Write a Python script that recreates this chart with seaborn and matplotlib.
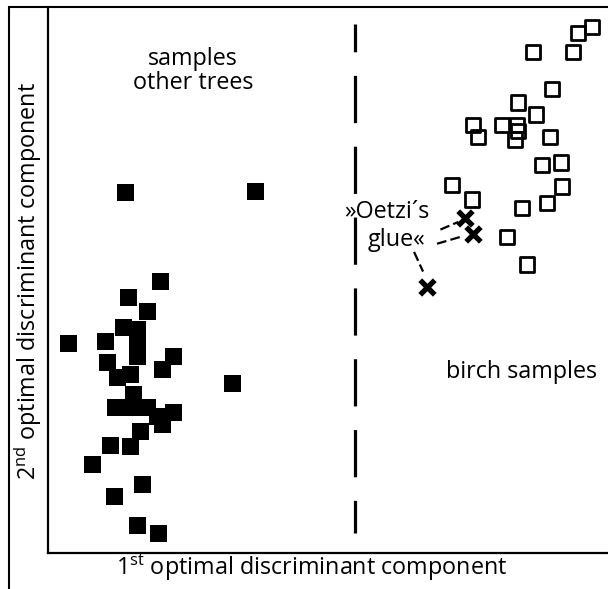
import matplotlib
matplotlib.use("Agg")
import matplotlib.pyplot as plt
import seaborn as sns
import pandas as pd


# ---- data (scores, arbitrary units 0..10) ----
other_x = [1.39, 3.71, 2.01, 1.44, 1.78, 1.35, 1.60, 0.37, 1.03, 1.60, 1.60,
           2.25, 1.07, 2.05, 1.25, 1.48, 3.30, 1.53, 1.21, 1.52, 1.78, 1.96,
           2.25, 2.05, 1.66, 1.12, 1.48, 0.80, 1.69, 1.19, 1.60, 1.98]
other_y = [6.60, 6.61, 4.96, 4.67, 4.41, 4.12, 4.08, 3.84, 3.86, 3.81, 3.59,
           3.59, 3.48, 3.35, 3.20, 3.26, 3.09, 2.89, 2.65, 2.65, 2.65, 2.49,
           2.56, 2.34, 2.21, 1.97, 1.94, 1.61, 1.24, 1.02, 0.49, 0.34]

birch_x = [9.71, 9.47, 8.66, 9.38, 9.00, 8.40, 8.72, 7.59, 7.68, 8.11, 8.38,
           8.40, 8.34, 8.97, 8.82, 9.16, 7.22, 7.58, 9.18, 8.91, 8.47, 8.20, 8.56]
birch_y = [9.64, 9.53, 9.17, 9.17, 8.49, 8.25, 8.03, 7.84, 7.62, 7.84, 7.84,
           7.72, 7.57, 7.61, 7.11, 7.15, 6.74, 6.47, 6.71, 6.41, 6.32, 5.79, 5.28]

glue_x = [7.45, 7.59, 6.77]
glue_y = [6.14, 5.83, 4.87]

divider_x = 5.49

other = pd.DataFrame({"x": other_x, "y": other_y})
birch = pd.DataFrame({"x": birch_x, "y": birch_y})
glue = pd.DataFrame({"x": glue_x, "y": glue_y})

# ---- style ----
sns.set_theme(style="white")
plt.rcParams["font.family"] = ["Open Sans", "DejaVu Sans"]
plt.rcParams["mathtext.fontset"] = "custom"
plt.rcParams["mathtext.rm"] = "Open Sans"
plt.rcParams["text.color"] = "black"
plt.rcParams["lines.scale_dashes"] = False

W, H = 608, 589
fig = plt.figure(figsize=(W / 100, H / 100), dpi=100)
ax = fig.add_axes([47.5 / W, 1 - 552.5 / H, (W - 47.5) / W, (552.5 - 7) / H])

sns.scatterplot(data=other, x="x", y="y", marker="s", s=150, color="black",
                edgecolor="none", ax=ax)
sns.scatterplot(data=birch, x="x", y="y", marker="s", s=105, facecolor="none",
                edgecolor="black", linewidth=2, ax=ax)
sns.scatterplot(data=glue, x="x", y="y", marker="x", s=110, color="black",
                linewidth=3.8, ax=ax)

# dashed separator
ax.plot([divider_x, divider_x], [9.68, 0.36], color="black", lw=2.3,
        linestyle=(14, (34, 17)), solid_capstyle="butt")

# leader lines to the glue samples
for (x0, y0), (x1, y1) in [((7.01, 5.92), (7.33, 6.06)),
                           ((6.95, 5.66), (7.38, 5.79)),
                           ((6.54, 5.51), (6.70, 5.15))]:
    ax.plot([x0, x1], [y0, y1], color="black", lw=1.6, linestyle=(0, (7, 3)))

fs = 16.8
ax.text(2.60, 8.82, "samples\nother trees", ha="center", va="center",
        fontsize=fs, linespacing=1.0)
ax.text(8.45, 3.31, "birch samples", ha="center", va="center", fontsize=fs)
ax.text(6.06, 6.25, "\u00bbOetzi\u00b4s", ha="center", va="center", fontsize=fs)
ax.text(6.22, 5.73, "glue\u00ab", ha="center", va="center", fontsize=fs)

ax.set_xlim(0, 10)
ax.set_ylim(0, 10)
ax.set_xticks([])
ax.set_yticks([])
ax.set_xlabel("")
ax.set_ylabel("")
for side in ["top", "right"]:
    ax.spines[side].set_visible(False)
for side in ["left", "bottom"]:
    ax.spines[side].set_color("black")
    ax.spines[side].set_linewidth(1.6)

fig.text(312 / W, 1 - 568 / H, r"1$^{\mathrm{st}}$ optimal discriminant component",
         ha="center", va="center", fontsize=fs)
fig.text(28 / W, 1 - 281 / H, r"2$^{\mathrm{nd}}$ optimal discriminant component",
         ha="center", va="center", rotation=90, fontsize=fs)

# outer frame of the figure
fig.add_artist(plt.Rectangle((8.5 / W, -0.1), 1.2, 1 - 7 / H + 0.1,
                             transform=fig.transFigure, fill=False,
                             lw=1.5, edgecolor="black"))

fig.savefig("out.png", dpi=100)
